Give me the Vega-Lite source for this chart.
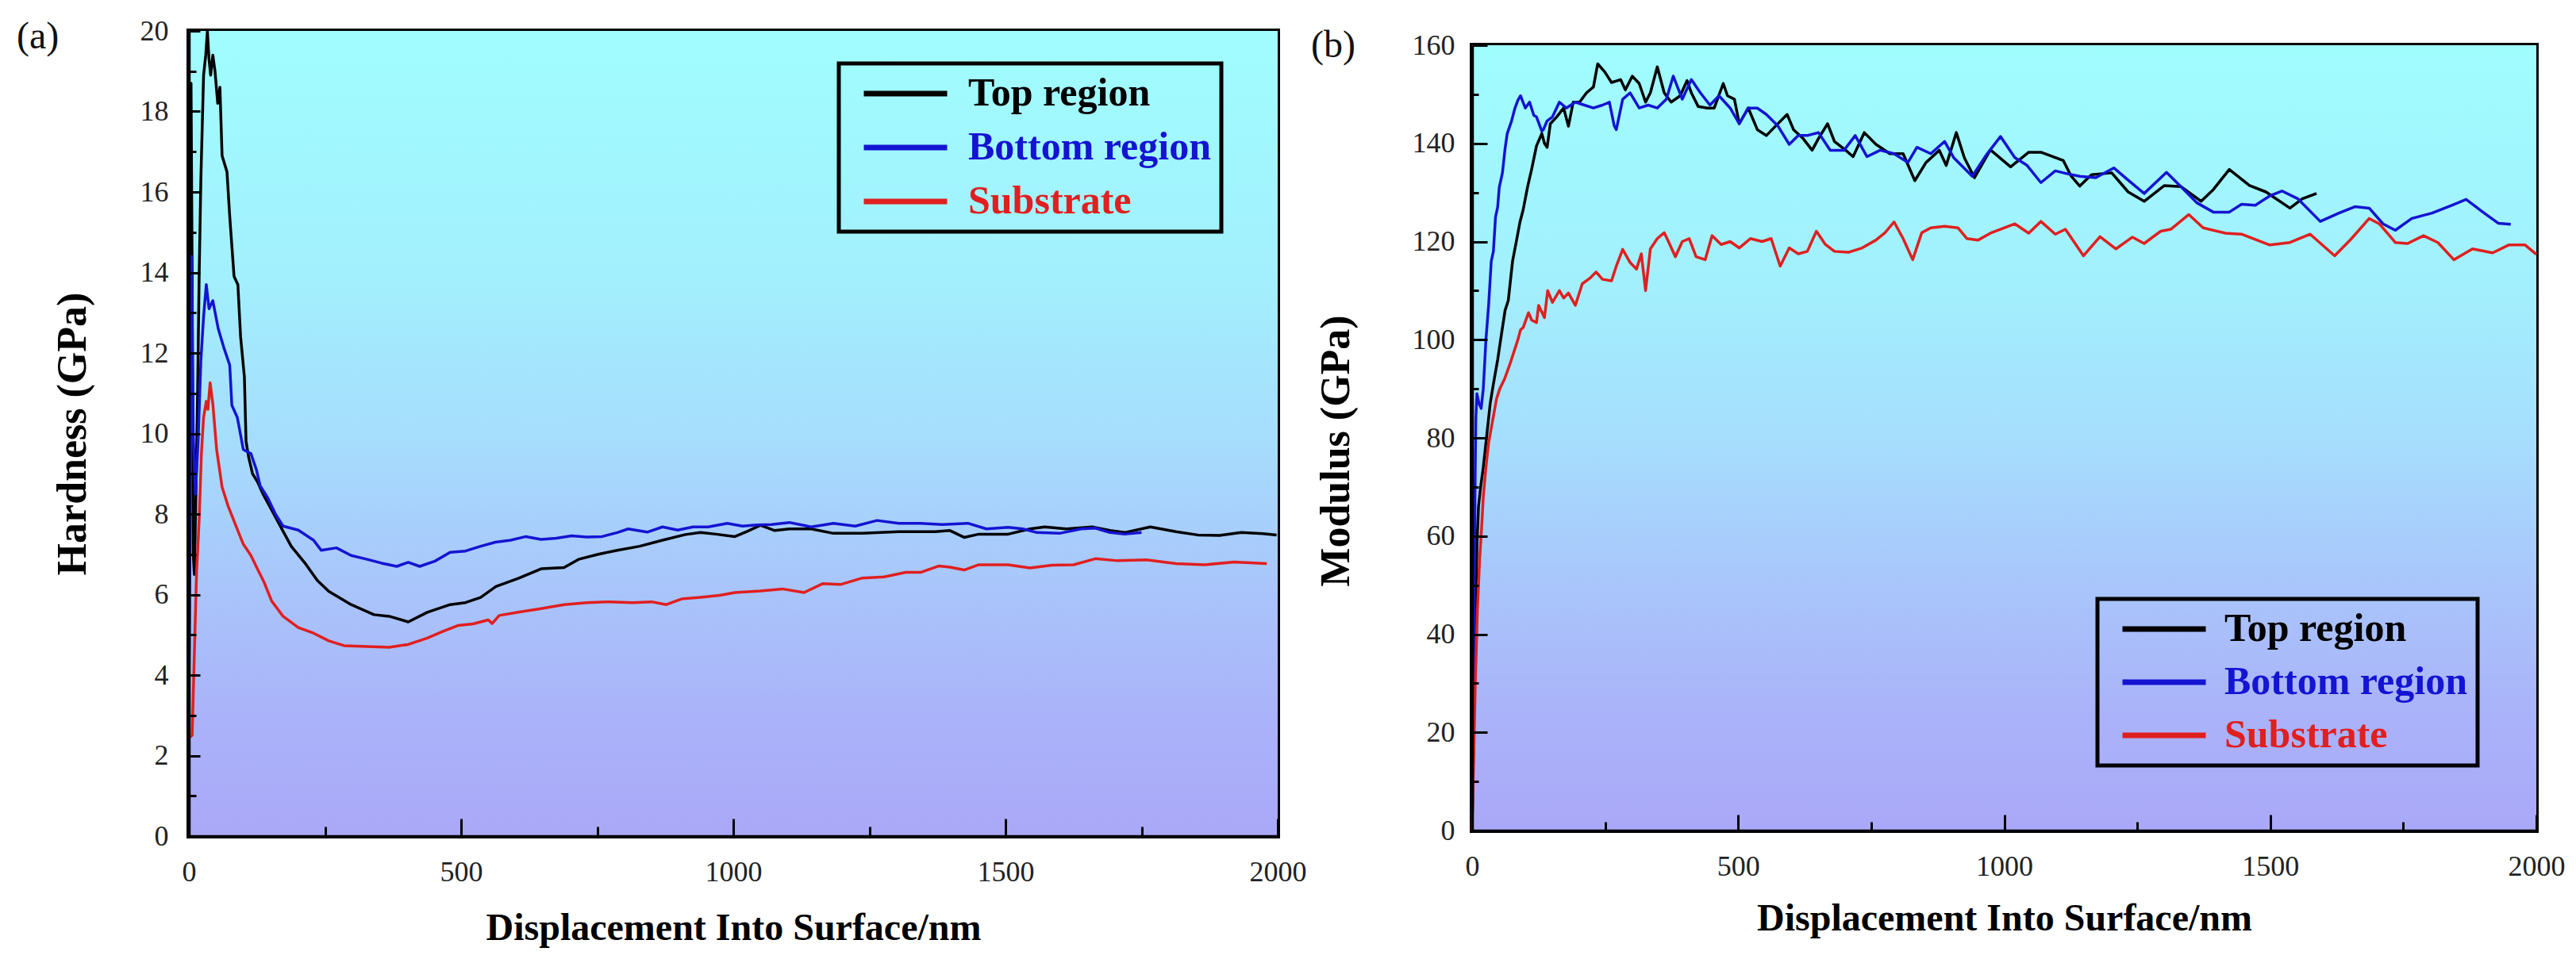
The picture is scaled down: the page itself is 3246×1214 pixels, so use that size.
{
"$schema":"https://vega.github.io/schema/vega-lite/v6.json",
"background":"white",
"padding":{"left":18,"top":18,"right":0,"bottom":0},
"spacing":0,
"config":{"font":"Liberation Serif","view":{"stroke":"black","strokeWidth":6},
"legend":{"strokeWidth":5}},
"resolve":{"scale":{"color":"independent"},"legend":{"color":"independent"}},
"datasets":{
"hard":[
{"d":0,"v":2.8,"s":"Top region"},{"d":2,"v":10,"s":"Top region"},{"d":4,"v":18.7,"s":"Top region"},{"d":6,"v":14,"s":"Top region"},{"d":8,"v":7,"s":"Top region"},{"d":10,"v":6.5,"s":"Top region"},{"d":13,"v":8.5,"s":"Top region"},{"d":16,"v":11,"s":"Top region"},{"d":19,"v":14,"s":"Top region"},{"d":22,"v":16.3,"s":"Top region"},{"d":27,"v":18.9,"s":"Top region"},{"d":31,"v":19.4,"s":"Top region"},{"d":34,"v":20,"s":"Top region"},{"d":37,"v":19.3,"s":"Top region"},{"d":40,"v":18.9,"s":"Top region"},{"d":44,"v":19.4,"s":"Top region"},{"d":48,"v":19,"s":"Top region"},{"d":53,"v":18.2,"s":"Top region"},{"d":57,"v":18.6,"s":"Top region"},{"d":61,"v":16.9,"s":"Top region"},{"d":70,"v":16.5,"s":"Top region"},{"d":75,"v":15.4,"s":"Top region"},{"d":83,"v":13.9,"s":"Top region"},{"d":90,"v":13.7,"s":"Top region"},{"d":95,"v":12.4,"s":"Top region"},{"d":102,"v":11.4,"s":"Top region"},{"d":105,"v":9.8,"s":"Top region"},{"d":110,"v":9.4,"s":"Top region"},{"d":117,"v":9.0,"s":"Top region"},{"d":126,"v":8.8,"s":"Top region"},{"d":136,"v":8.5,"s":"Top region"},{"d":156,"v":8.0,"s":"Top region"},{"d":172,"v":7.6,"s":"Top region"},{"d":188,"v":7.2,"s":"Top region"},{"d":215,"v":6.75,"s":"Top region"},{"d":236,"v":6.35,"s":"Top region"},{"d":257,"v":6.08,"s":"Top region"},{"d":298,"v":5.75,"s":"Top region"},{"d":340,"v":5.5,"s":"Top region"},{"d":368,"v":5.46,"s":"Top region"},{"d":403,"v":5.32,"s":"Top region"},{"d":438,"v":5.56,"s":"Top region"},{"d":480,"v":5.75,"s":"Top region"},{"d":508,"v":5.8,"s":"Top region"},{"d":536,"v":5.93,"s":"Top region"},{"d":564,"v":6.2,"s":"Top region"},{"d":605,"v":6.4,"s":"Top region"},{"d":647,"v":6.64,"s":"Top region"},{"d":689,"v":6.67,"s":"Top region"},{"d":717,"v":6.88,"s":"Top region"},{"d":752,"v":7.0,"s":"Top region"},{"d":787,"v":7.1,"s":"Top region"},{"d":828,"v":7.2,"s":"Top region"},{"d":870,"v":7.35,"s":"Top region"},{"d":912,"v":7.49,"s":"Top region"},{"d":940,"v":7.54,"s":"Top region"},{"d":968,"v":7.5,"s":"Top region"},{"d":1003,"v":7.44,"s":"Top region"},{"d":1024,"v":7.56,"s":"Top region"},{"d":1050,"v":7.72,"s":"Top region"},{"d":1076,"v":7.59,"s":"Top region"},{"d":1103,"v":7.63,"s":"Top region"},{"d":1143,"v":7.63,"s":"Top region"},{"d":1184,"v":7.52,"s":"Top region"},{"d":1237,"v":7.52,"s":"Top region"},{"d":1304,"v":7.56,"s":"Top region"},{"d":1371,"v":7.56,"s":"Top region"},{"d":1398,"v":7.59,"s":"Top region"},{"d":1424,"v":7.42,"s":"Top region"},{"d":1451,"v":7.5,"s":"Top region"},{"d":1505,"v":7.5,"s":"Top region"},{"d":1545,"v":7.63,"s":"Top region"},{"d":1572,"v":7.68,"s":"Top region"},{"d":1612,"v":7.63,"s":"Top region"},{"d":1659,"v":7.68,"s":"Top region"},{"d":1692,"v":7.59,"s":"Top region"},{"d":1719,"v":7.54,"s":"Top region"},{"d":1766,"v":7.68,"s":"Top region"},{"d":1813,"v":7.56,"s":"Top region"},{"d":1853,"v":7.48,"s":"Top region"},{"d":1893,"v":7.47,"s":"Top region"},{"d":1933,"v":7.54,"s":"Top region"},{"d":1973,"v":7.51,"s":"Top region"},{"d":1998,"v":7.48,"s":"Top region"},
{"d":0,"v":3.5,"s":"Bottom region"},{"d":3,"v":9,"s":"Bottom region"},{"d":5,"v":14.4,"s":"Bottom region"},{"d":8,"v":10,"s":"Bottom region"},{"d":12,"v":8.5,"s":"Bottom region"},{"d":17,"v":9.8,"s":"Bottom region"},{"d":22,"v":11.8,"s":"Bottom region"},{"d":27,"v":12.9,"s":"Bottom region"},{"d":32,"v":13.7,"s":"Bottom region"},{"d":37,"v":13.1,"s":"Bottom region"},{"d":44,"v":13.3,"s":"Bottom region"},{"d":54,"v":12.6,"s":"Bottom region"},{"d":65,"v":12.1,"s":"Bottom region"},{"d":75,"v":11.7,"s":"Bottom region"},{"d":79,"v":10.7,"s":"Bottom region"},{"d":89,"v":10.4,"s":"Bottom region"},{"d":100,"v":9.6,"s":"Bottom region"},{"d":114,"v":9.5,"s":"Bottom region"},{"d":124,"v":9.1,"s":"Bottom region"},{"d":131,"v":8.7,"s":"Bottom region"},{"d":145,"v":8.4,"s":"Bottom region"},{"d":159,"v":8.0,"s":"Bottom region"},{"d":173,"v":7.7,"s":"Bottom region"},{"d":201,"v":7.6,"s":"Bottom region"},{"d":229,"v":7.35,"s":"Bottom region"},{"d":243,"v":7.1,"s":"Bottom region"},{"d":271,"v":7.16,"s":"Bottom region"},{"d":298,"v":6.97,"s":"Bottom region"},{"d":326,"v":6.88,"s":"Bottom region"},{"d":354,"v":6.78,"s":"Bottom region"},{"d":382,"v":6.7,"s":"Bottom region"},{"d":403,"v":6.8,"s":"Bottom region"},{"d":424,"v":6.7,"s":"Bottom region"},{"d":452,"v":6.83,"s":"Bottom region"},{"d":480,"v":7.05,"s":"Bottom region"},{"d":508,"v":7.08,"s":"Bottom region"},{"d":536,"v":7.2,"s":"Bottom region"},{"d":563,"v":7.3,"s":"Bottom region"},{"d":591,"v":7.35,"s":"Bottom region"},{"d":619,"v":7.44,"s":"Bottom region"},{"d":647,"v":7.37,"s":"Bottom region"},{"d":675,"v":7.4,"s":"Bottom region"},{"d":703,"v":7.46,"s":"Bottom region"},{"d":731,"v":7.43,"s":"Bottom region"},{"d":759,"v":7.44,"s":"Bottom region"},{"d":787,"v":7.54,"s":"Bottom region"},{"d":807,"v":7.63,"s":"Bottom region"},{"d":842,"v":7.55,"s":"Bottom region"},{"d":870,"v":7.68,"s":"Bottom region"},{"d":898,"v":7.6,"s":"Bottom region"},{"d":926,"v":7.68,"s":"Bottom region"},{"d":954,"v":7.68,"s":"Bottom region"},{"d":989,"v":7.77,"s":"Bottom region"},{"d":1017,"v":7.7,"s":"Bottom region"},{"d":1043,"v":7.73,"s":"Bottom region"},{"d":1070,"v":7.74,"s":"Bottom region"},{"d":1103,"v":7.79,"s":"Bottom region"},{"d":1143,"v":7.68,"s":"Bottom region"},{"d":1184,"v":7.77,"s":"Bottom region"},{"d":1224,"v":7.7,"s":"Bottom region"},{"d":1264,"v":7.84,"s":"Bottom region"},{"d":1304,"v":7.77,"s":"Bottom region"},{"d":1344,"v":7.77,"s":"Bottom region"},{"d":1384,"v":7.74,"s":"Bottom region"},{"d":1431,"v":7.77,"s":"Bottom region"},{"d":1465,"v":7.63,"s":"Bottom region"},{"d":1505,"v":7.67,"s":"Bottom region"},{"d":1532,"v":7.63,"s":"Bottom region"},{"d":1558,"v":7.54,"s":"Bottom region"},{"d":1599,"v":7.52,"s":"Bottom region"},{"d":1639,"v":7.63,"s":"Bottom region"},{"d":1665,"v":7.65,"s":"Bottom region"},{"d":1692,"v":7.54,"s":"Bottom region"},{"d":1719,"v":7.5,"s":"Bottom region"},{"d":1750,"v":7.54,"s":"Bottom region"},
{"d":0,"v":2.45,"s":"Substrate"},{"d":6,"v":2.5,"s":"Substrate"},{"d":10,"v":4.5,"s":"Substrate"},{"d":14,"v":6.5,"s":"Substrate"},{"d":19,"v":7.9,"s":"Substrate"},{"d":23,"v":9.5,"s":"Substrate"},{"d":27,"v":10.4,"s":"Substrate"},{"d":32,"v":10.8,"s":"Substrate"},{"d":35,"v":10.6,"s":"Substrate"},{"d":39,"v":11.26,"s":"Substrate"},{"d":44,"v":10.74,"s":"Substrate"},{"d":51,"v":9.6,"s":"Substrate"},{"d":61,"v":8.67,"s":"Substrate"},{"d":72,"v":8.2,"s":"Substrate"},{"d":86,"v":7.72,"s":"Substrate"},{"d":100,"v":7.25,"s":"Substrate"},{"d":114,"v":6.97,"s":"Substrate"},{"d":124,"v":6.69,"s":"Substrate"},{"d":138,"v":6.31,"s":"Substrate"},{"d":152,"v":5.84,"s":"Substrate"},{"d":173,"v":5.46,"s":"Substrate"},{"d":201,"v":5.18,"s":"Substrate"},{"d":229,"v":5.04,"s":"Substrate"},{"d":257,"v":4.85,"s":"Substrate"},{"d":285,"v":4.73,"s":"Substrate"},{"d":326,"v":4.71,"s":"Substrate"},{"d":368,"v":4.69,"s":"Substrate"},{"d":403,"v":4.76,"s":"Substrate"},{"d":438,"v":4.92,"s":"Substrate"},{"d":466,"v":5.08,"s":"Substrate"},{"d":494,"v":5.23,"s":"Substrate"},{"d":522,"v":5.27,"s":"Substrate"},{"d":550,"v":5.37,"s":"Substrate"},{"d":557,"v":5.28,"s":"Substrate"},{"d":570,"v":5.48,"s":"Substrate"},{"d":605,"v":5.56,"s":"Substrate"},{"d":647,"v":5.65,"s":"Substrate"},{"d":689,"v":5.75,"s":"Substrate"},{"d":731,"v":5.8,"s":"Substrate"},{"d":773,"v":5.82,"s":"Substrate"},{"d":815,"v":5.8,"s":"Substrate"},{"d":850,"v":5.82,"s":"Substrate"},{"d":877,"v":5.75,"s":"Substrate"},{"d":905,"v":5.89,"s":"Substrate"},{"d":940,"v":5.93,"s":"Substrate"},{"d":975,"v":5.98,"s":"Substrate"},{"d":1003,"v":6.05,"s":"Substrate"},{"d":1050,"v":6.09,"s":"Substrate"},{"d":1090,"v":6.14,"s":"Substrate"},{"d":1130,"v":6.05,"s":"Substrate"},{"d":1164,"v":6.27,"s":"Substrate"},{"d":1197,"v":6.25,"s":"Substrate"},{"d":1237,"v":6.41,"s":"Substrate"},{"d":1277,"v":6.44,"s":"Substrate"},{"d":1317,"v":6.55,"s":"Substrate"},{"d":1344,"v":6.55,"s":"Substrate"},{"d":1378,"v":6.71,"s":"Substrate"},{"d":1398,"v":6.68,"s":"Substrate"},{"d":1424,"v":6.61,"s":"Substrate"},{"d":1451,"v":6.74,"s":"Substrate"},{"d":1505,"v":6.74,"s":"Substrate"},{"d":1545,"v":6.66,"s":"Substrate"},{"d":1585,"v":6.73,"s":"Substrate"},{"d":1625,"v":6.74,"s":"Substrate"},{"d":1665,"v":6.89,"s":"Substrate"},{"d":1706,"v":6.84,"s":"Substrate"},{"d":1759,"v":6.86,"s":"Substrate"},{"d":1813,"v":6.77,"s":"Substrate"},{"d":1866,"v":6.74,"s":"Substrate"},{"d":1920,"v":6.81,"s":"Substrate"},{"d":1980,"v":6.77,"s":"Substrate"}
],
"mod":[
{"d":0,"v":1,"s":"Top region"},{"d":3,"v":20,"s":"Top region"},{"d":6,"v":42,"s":"Top region"},{"d":9,"v":58,"s":"Top region"},{"d":12,"v":66,"s":"Top region"},{"d":16,"v":70,"s":"Top region"},{"d":21,"v":74,"s":"Top region"},{"d":27,"v":80,"s":"Top region"},{"d":34,"v":87,"s":"Top region"},{"d":40,"v":91,"s":"Top region"},{"d":48,"v":95.9,"s":"Top region"},{"d":55,"v":101,"s":"Top region"},{"d":62,"v":106,"s":"Top region"},{"d":68,"v":108,"s":"Top region"},{"d":76,"v":116,"s":"Top region"},{"d":82,"v":119.4,"s":"Top region"},{"d":90,"v":124,"s":"Top region"},{"d":96,"v":126.5,"s":"Top region"},{"d":104,"v":131,"s":"Top region"},{"d":112,"v":134.8,"s":"Top region"},{"d":121,"v":139.5,"s":"Top region"},{"d":131,"v":142,"s":"Top region"},{"d":136,"v":140,"s":"Top region"},{"d":141,"v":139.2,"s":"Top region"},{"d":147,"v":144,"s":"Top region"},{"d":159,"v":145.4,"s":"Top region"},{"d":172,"v":147.2,"s":"Top region"},{"d":181,"v":143.5,"s":"Top region"},{"d":190,"v":148.4,"s":"Top region"},{"d":202,"v":148.4,"s":"Top region"},{"d":215,"v":150.3,"s":"Top region"},{"d":228,"v":151.5,"s":"Top region"},{"d":236,"v":156.2,"s":"Top region"},{"d":249,"v":154.6,"s":"Top region"},{"d":262,"v":152.4,"s":"Top region"},{"d":279,"v":153,"s":"Top region"},{"d":288,"v":150.9,"s":"Top region"},{"d":301,"v":153.7,"s":"Top region"},{"d":314,"v":152.2,"s":"Top region"},{"d":326,"v":148.4,"s":"Top region"},{"d":335,"v":150.3,"s":"Top region"},{"d":348,"v":155.6,"s":"Top region"},{"d":361,"v":150.3,"s":"Top region"},{"d":374,"v":148.4,"s":"Top region"},{"d":382,"v":149,"s":"Top region"},{"d":391,"v":149.7,"s":"Top region"},{"d":404,"v":152.8,"s":"Top region"},{"d":412,"v":150.3,"s":"Top region"},{"d":425,"v":147.5,"s":"Top region"},{"d":442,"v":147.2,"s":"Top region"},{"d":455,"v":147.2,"s":"Top region"},{"d":472,"v":152.2,"s":"Top region"},{"d":480,"v":149.7,"s":"Top region"},{"d":493,"v":149,"s":"Top region"},{"d":502,"v":144,"s":"Top region"},{"d":519,"v":147.2,"s":"Top region"},{"d":536,"v":142.8,"s":"Top region"},{"d":553,"v":141.6,"s":"Top region"},{"d":570,"v":143.5,"s":"Top region"},{"d":592,"v":145.9,"s":"Top region"},{"d":604,"v":142.8,"s":"Top region"},{"d":622,"v":141,"s":"Top region"},{"d":639,"v":138.6,"s":"Top region"},{"d":651,"v":141,"s":"Top region"},{"d":668,"v":144,"s":"Top region"},{"d":681,"v":140.4,"s":"Top region"},{"d":702,"v":138.6,"s":"Top region"},{"d":716,"v":137.3,"s":"Top region"},{"d":737,"v":142.2,"s":"Top region"},{"d":759,"v":139.8,"s":"Top region"},{"d":785,"v":137.9,"s":"Top region"},{"d":810,"v":137.9,"s":"Top region"},{"d":832,"v":132.4,"s":"Top region"},{"d":853,"v":136.1,"s":"Top region"},{"d":878,"v":138.6,"s":"Top region"},{"d":891,"v":135.5,"s":"Top region"},{"d":910,"v":142.2,"s":"Top region"},{"d":925,"v":137.1,"s":"Top region"},{"d":944,"v":133,"s":"Top region"},{"d":974,"v":138.7,"s":"Top region"},{"d":1012,"v":135.2,"s":"Top region"},{"d":1046,"v":138.2,"s":"Top region"},{"d":1069,"v":138.2,"s":"Top region"},{"d":1111,"v":136.5,"s":"Top region"},{"d":1126,"v":133.3,"s":"Top region"},{"d":1142,"v":131.3,"s":"Top region"},{"d":1164,"v":133.6,"s":"Top region"},{"d":1202,"v":134,"s":"Top region"},{"d":1233,"v":130.1,"s":"Top region"},{"d":1263,"v":128.2,"s":"Top region"},{"d":1301,"v":131.4,"s":"Top region"},{"d":1332,"v":131.2,"s":"Top region"},{"d":1370,"v":128.2,"s":"Top region"},{"d":1393,"v":130.6,"s":"Top region"},{"d":1423,"v":134.7,"s":"Top region"},{"d":1461,"v":131.4,"s":"Top region"},{"d":1492,"v":130.1,"s":"Top region"},{"d":1537,"v":126.8,"s":"Top region"},{"d":1560,"v":128.7,"s":"Top region"},{"d":1587,"v":129.8,"s":"Top region"},
{"d":0,"v":3,"s":"Bottom region"},{"d":2,"v":25,"s":"Bottom region"},{"d":4,"v":50,"s":"Bottom region"},{"d":6,"v":75,"s":"Bottom region"},{"d":7,"v":84,"s":"Bottom region"},{"d":9,"v":89,"s":"Bottom region"},{"d":13,"v":87,"s":"Bottom region"},{"d":17,"v":86,"s":"Bottom region"},{"d":21,"v":90,"s":"Bottom region"},{"d":26,"v":100,"s":"Bottom region"},{"d":31,"v":107,"s":"Bottom region"},{"d":36,"v":116,"s":"Bottom region"},{"d":40,"v":118,"s":"Bottom region"},{"d":44,"v":125,"s":"Bottom region"},{"d":48,"v":127,"s":"Bottom region"},{"d":51,"v":131,"s":"Bottom region"},{"d":57,"v":134,"s":"Bottom region"},{"d":62,"v":139,"s":"Bottom region"},{"d":66,"v":142,"s":"Bottom region"},{"d":74,"v":144.5,"s":"Bottom region"},{"d":80,"v":147,"s":"Bottom region"},{"d":86,"v":148.8,"s":"Bottom region"},{"d":91,"v":149.7,"s":"Bottom region"},{"d":96,"v":148.3,"s":"Bottom region"},{"d":100,"v":147.2,"s":"Bottom region"},{"d":108,"v":148.4,"s":"Bottom region"},{"d":116,"v":145.7,"s":"Bottom region"},{"d":121,"v":145.4,"s":"Bottom region"},{"d":131,"v":142.5,"s":"Bottom region"},{"d":134,"v":142.8,"s":"Bottom region"},{"d":141,"v":144.6,"s":"Bottom region"},{"d":151,"v":145.4,"s":"Bottom region"},{"d":164,"v":148.4,"s":"Bottom region"},{"d":177,"v":147.2,"s":"Bottom region"},{"d":194,"v":148.4,"s":"Bottom region"},{"d":211,"v":147.8,"s":"Bottom region"},{"d":228,"v":147.2,"s":"Bottom region"},{"d":245,"v":147.8,"s":"Bottom region"},{"d":258,"v":148.4,"s":"Bottom region"},{"d":267,"v":143.6,"s":"Bottom region"},{"d":271,"v":142.8,"s":"Bottom region"},{"d":283,"v":149,"s":"Bottom region"},{"d":297,"v":150.3,"s":"Bottom region"},{"d":314,"v":147.2,"s":"Bottom region"},{"d":331,"v":147.8,"s":"Bottom region"},{"d":348,"v":147.2,"s":"Bottom region"},{"d":365,"v":149,"s":"Bottom region"},{"d":378,"v":153.7,"s":"Bottom region"},{"d":395,"v":149,"s":"Bottom region"},{"d":412,"v":153,"s":"Bottom region"},{"d":429,"v":150.3,"s":"Bottom region"},{"d":447,"v":147.8,"s":"Bottom region"},{"d":464,"v":149.7,"s":"Bottom region"},{"d":485,"v":147.2,"s":"Bottom region"},{"d":502,"v":144,"s":"Bottom region"},{"d":519,"v":147.2,"s":"Bottom region"},{"d":536,"v":147.2,"s":"Bottom region"},{"d":553,"v":145.9,"s":"Bottom region"},{"d":575,"v":143.5,"s":"Bottom region"},{"d":596,"v":139.8,"s":"Bottom region"},{"d":613,"v":141.6,"s":"Bottom region"},{"d":630,"v":141.6,"s":"Bottom region"},{"d":651,"v":142.2,"s":"Bottom region"},{"d":673,"v":138.6,"s":"Bottom region"},{"d":699,"v":138.6,"s":"Bottom region"},{"d":720,"v":141.6,"s":"Bottom region"},{"d":742,"v":137.3,"s":"Bottom region"},{"d":767,"v":138.6,"s":"Bottom region"},{"d":793,"v":137.9,"s":"Bottom region"},{"d":819,"v":136.1,"s":"Bottom region"},{"d":836,"v":139.2,"s":"Bottom region"},{"d":862,"v":137.9,"s":"Bottom region"},{"d":888,"v":140.4,"s":"Bottom region"},{"d":905,"v":137.1,"s":"Bottom region"},{"d":940,"v":133.3,"s":"Bottom region"},{"d":966,"v":137.6,"s":"Bottom region"},{"d":993,"v":141.4,"s":"Bottom region"},{"d":1020,"v":137.1,"s":"Bottom region"},{"d":1043,"v":135.5,"s":"Bottom region"},{"d":1069,"v":132,"s":"Bottom region"},{"d":1096,"v":134.4,"s":"Bottom region"},{"d":1119,"v":133.8,"s":"Bottom region"},{"d":1142,"v":133.3,"s":"Bottom region"},{"d":1172,"v":133,"s":"Bottom region"},{"d":1206,"v":135,"s":"Bottom region"},{"d":1233,"v":132.5,"s":"Bottom region"},{"d":1263,"v":129.8,"s":"Bottom region"},{"d":1305,"v":134.1,"s":"Bottom region"},{"d":1332,"v":131.2,"s":"Bottom region"},{"d":1362,"v":127.9,"s":"Bottom region"},{"d":1393,"v":126,"s":"Bottom region"},{"d":1423,"v":126,"s":"Bottom region"},{"d":1446,"v":127.6,"s":"Bottom region"},{"d":1472,"v":127.4,"s":"Bottom region"},{"d":1499,"v":129.3,"s":"Bottom region"},{"d":1522,"v":130.3,"s":"Bottom region"},{"d":1552,"v":128.7,"s":"Bottom region"},{"d":1594,"v":124.1,"s":"Bottom region"},{"d":1629,"v":125.8,"s":"Bottom region"},{"d":1659,"v":127.1,"s":"Bottom region"},{"d":1686,"v":126.8,"s":"Bottom region"},{"d":1712,"v":123.6,"s":"Bottom region"},{"d":1735,"v":122.3,"s":"Bottom region"},{"d":1766,"v":124.7,"s":"Bottom region"},{"d":1804,"v":125.8,"s":"Bottom region"},{"d":1842,"v":127.4,"s":"Bottom region"},{"d":1868,"v":128.6,"s":"Bottom region"},{"d":1902,"v":125.8,"s":"Bottom region"},{"d":1929,"v":123.7,"s":"Bottom region"},{"d":1952,"v":123.5,"s":"Bottom region"},
{"d":0,"v":0,"s":"Substrate"},{"d":3,"v":15,"s":"Substrate"},{"d":6,"v":30,"s":"Substrate"},{"d":10,"v":45,"s":"Substrate"},{"d":14,"v":55,"s":"Substrate"},{"d":18,"v":62,"s":"Substrate"},{"d":21,"v":68,"s":"Substrate"},{"d":26,"v":74,"s":"Substrate"},{"d":31,"v":79,"s":"Substrate"},{"d":36,"v":82,"s":"Substrate"},{"d":41,"v":85,"s":"Substrate"},{"d":46,"v":88,"s":"Substrate"},{"d":52,"v":90,"s":"Substrate"},{"d":61,"v":92,"s":"Substrate"},{"d":71,"v":95,"s":"Substrate"},{"d":80,"v":98,"s":"Substrate"},{"d":86,"v":100,"s":"Substrate"},{"d":91,"v":102,"s":"Substrate"},{"d":96,"v":102.5,"s":"Substrate"},{"d":106,"v":105.5,"s":"Substrate"},{"d":112,"v":104,"s":"Substrate"},{"d":121,"v":103.5,"s":"Substrate"},{"d":125,"v":107,"s":"Substrate"},{"d":136,"v":104.5,"s":"Substrate"},{"d":142,"v":110,"s":"Substrate"},{"d":151,"v":107.6,"s":"Substrate"},{"d":164,"v":110,"s":"Substrate"},{"d":172,"v":108.5,"s":"Substrate"},{"d":181,"v":109.5,"s":"Substrate"},{"d":194,"v":107,"s":"Substrate"},{"d":207,"v":111.4,"s":"Substrate"},{"d":221,"v":112.5,"s":"Substrate"},{"d":233,"v":113.8,"s":"Substrate"},{"d":245,"v":112.3,"s":"Substrate"},{"d":262,"v":112,"s":"Substrate"},{"d":271,"v":115,"s":"Substrate"},{"d":283,"v":118.4,"s":"Substrate"},{"d":297,"v":115.7,"s":"Substrate"},{"d":309,"v":114.4,"s":"Substrate"},{"d":318,"v":117.5,"s":"Substrate"},{"d":326,"v":110,"s":"Substrate"},{"d":335,"v":118.5,"s":"Substrate"},{"d":348,"v":120.6,"s":"Substrate"},{"d":361,"v":121.8,"s":"Substrate"},{"d":369,"v":120,"s":"Substrate"},{"d":382,"v":116.9,"s":"Substrate"},{"d":395,"v":120,"s":"Substrate"},{"d":408,"v":120.6,"s":"Substrate"},{"d":421,"v":116.9,"s":"Substrate"},{"d":438,"v":116.3,"s":"Substrate"},{"d":451,"v":121.2,"s":"Substrate"},{"d":468,"v":119.4,"s":"Substrate"},{"d":485,"v":120,"s":"Substrate"},{"d":502,"v":118.7,"s":"Substrate"},{"d":523,"v":120.6,"s":"Substrate"},{"d":545,"v":120,"s":"Substrate"},{"d":562,"v":120.6,"s":"Substrate"},{"d":579,"v":115,"s":"Substrate"},{"d":596,"v":118.7,"s":"Substrate"},{"d":613,"v":117.5,"s":"Substrate"},{"d":630,"v":118,"s":"Substrate"},{"d":647,"v":122.1,"s":"Substrate"},{"d":664,"v":119.4,"s":"Substrate"},{"d":681,"v":118,"s":"Substrate"},{"d":707,"v":117.8,"s":"Substrate"},{"d":733,"v":118.7,"s":"Substrate"},{"d":759,"v":120.3,"s":"Substrate"},{"d":776,"v":121.8,"s":"Substrate"},{"d":793,"v":124,"s":"Substrate"},{"d":810,"v":120.6,"s":"Substrate"},{"d":828,"v":116.3,"s":"Substrate"},{"d":845,"v":121.8,"s":"Substrate"},{"d":862,"v":122.8,"s":"Substrate"},{"d":888,"v":123.1,"s":"Substrate"},{"d":913,"v":122.8,"s":"Substrate"},{"d":930,"v":120.6,"s":"Substrate"},{"d":951,"v":120.3,"s":"Substrate"},{"d":974,"v":121.7,"s":"Substrate"},{"d":1020,"v":123.6,"s":"Substrate"},{"d":1046,"v":121.7,"s":"Substrate"},{"d":1069,"v":124.1,"s":"Substrate"},{"d":1096,"v":121.5,"s":"Substrate"},{"d":1115,"v":122.5,"s":"Substrate"},{"d":1149,"v":117.1,"s":"Substrate"},{"d":1180,"v":121,"s":"Substrate"},{"d":1210,"v":118.5,"s":"Substrate"},{"d":1241,"v":120.9,"s":"Substrate"},{"d":1263,"v":119.6,"s":"Substrate"},{"d":1294,"v":122.1,"s":"Substrate"},{"d":1313,"v":122.5,"s":"Substrate"},{"d":1347,"v":125.5,"s":"Substrate"},{"d":1374,"v":122.8,"s":"Substrate"},{"d":1416,"v":121.7,"s":"Substrate"},{"d":1446,"v":121.5,"s":"Substrate"},{"d":1499,"v":119.3,"s":"Substrate"},{"d":1537,"v":119.8,"s":"Substrate"},{"d":1575,"v":121.5,"s":"Substrate"},{"d":1621,"v":117.1,"s":"Substrate"},{"d":1651,"v":120.4,"s":"Substrate"},{"d":1686,"v":124.7,"s":"Substrate"},{"d":1705,"v":123.6,"s":"Substrate"},{"d":1735,"v":119.8,"s":"Substrate"},{"d":1758,"v":119.6,"s":"Substrate"},{"d":1788,"v":121.2,"s":"Substrate"},{"d":1815,"v":119.8,"s":"Substrate"},{"d":1845,"v":116.3,"s":"Substrate"},{"d":1880,"v":118.5,"s":"Substrate"},{"d":1918,"v":117.7,"s":"Substrate"},{"d":1948,"v":119.3,"s":"Substrate"},{"d":1979,"v":119.3,"s":"Substrate"},{"d":2000,"v":117.4,"s":"Substrate"}
]},
"hconcat":[
{
"width":1372,"height":1015,
"title":{"text":"(a)","orient":"top","anchor":"start","frame":"group","offset":-50,"dx":-217,"font":"Liberation Serif","fontSize":48,"fontWeight":"normal","color":"#111111"},
"layer":[
{"data":{"values":[{"x0":0,"x1":2000,"y0":0,"y1":20}]},
"mark":{"type":"rect","color":{"gradient":"linear","x1":0,"y1":0,"x2":0,"y2":1,"stops":[{"offset":0,"color":"#a0fdfe"},{"offset":0.3,"color":"#a2f0fd"},{"offset":0.5,"color":"#a6defd"},{"offset":0.7,"color":"#a9c4fb"},{"offset":0.85,"color":"#aab3f9"},{"offset":1,"color":"#aaa8f8"}]}},
"encoding":{
"x":{"field":"x0","type":"quantitative","scale":{"domain":[0,2000],"nice":false},
"axis":{"zindex":1,"values":[0,250,500,750,1000,1250,1500,1750,2000],"labelExpr":"datum.value % 500 === 0 ? datum.label : ''","format":"d","grid":false,"domainColor":"black","domainWidth":3.5,"tickColor":"black","tickWidth":3,"tickSize":{"condition":{"test":"datum.value % 500 === 0","value":-22},"value":-12},"labelPadding":50,"labelFont":"Liberation Serif","labelFontSize":36,"labelColor":"#222222","labelFlush":false,"title":"Displacement Into Surface/nm","titleFont":"Liberation Serif","titleFontSize":48,"titleFontWeight":"bold","titleColor":"black","titlePadding":29}},
"x2":{"field":"x1"},
"y":{"field":"y0","type":"quantitative","scale":{"domain":[0,20],"nice":false},
"axis":{"zindex":1,"values":[0,1,2,3,4,5,6,7,8,9,10,11,12,13,14,15,16,17,18,19,20],"labelExpr":"datum.value % 2 === 0 ? datum.label : ''","grid":false,"domainColor":"black","domainWidth":3.5,"tickColor":"black","tickWidth":3,"tickSize":{"condition":{"test":"datum.value % 2 === 0","value":-14},"value":-9},"labelPadding":40,"labelFont":"Liberation Serif","labelFontSize":36,"labelColor":"#222222","labelFlush":false,"title":"Hardness (GPa)","titleFont":"Liberation Serif","titleFontSize":52,"titleFontWeight":"bold","titleColor":"black","titlePadding":58}},
"y2":{"field":"y1"}}},
{"data":{"name":"hard"},
"mark":{"type":"line","strokeWidth":3.5,"strokeJoin":"round"},
"encoding":{"x":{"field":"d","type":"quantitative"},"y":{"field":"v","type":"quantitative"},
"color":{"field":"s","type":"nominal","scale":{"domain":["Top region","Bottom region","Substrate"],"range":["#000000","#1414d2","#e01f1f"]},
"legend":{"orient":"none","legendX":819,"legendY":41,"title":null,"symbolType":"stroke","symbolSize":11025,"symbolStrokeWidth":7,"clipHeight":50,"labelFont":"Liberation Serif","labelFontSize":50,"labelFontWeight":"bold","labelLimit":0,"strokeColor":"black","padding":13,"rowPadding":18,"labelOffset":23,"symbolOffset":15,
"encode":{"symbols":{"update":{"strokeWidth":{"value":7}}},"labels":{"update":{"fill":{"signal":"datum.value === 'Top region' ? '#000000' : datum.value === 'Bottom region' ? '#1414d2' : '#e01f1f'"}}}}}}}}
]},
{
"spacing":-9,
"vconcat":[
{"width":10,"height":1,"view":{"stroke":null},"data":{"values":[]},"mark":{"type":"point","opacity":0},"encoding":{}},
{
"width":1341,"height":990,
"title":{"text":"(b)","orient":"top","anchor":"start","frame":"group","offset":-43,"dx":-203,"font":"Liberation Serif","fontSize":48,"fontWeight":"normal","color":"#111111"},
"layer":[
{"data":{"values":[{"x0":0,"x1":2000,"y0":0,"y1":160}]},
"mark":{"type":"rect","color":{"gradient":"linear","x1":0,"y1":0,"x2":0,"y2":1,"stops":[{"offset":0,"color":"#a0fdfe"},{"offset":0.3,"color":"#a2f0fd"},{"offset":0.5,"color":"#a6defd"},{"offset":0.7,"color":"#a9c4fb"},{"offset":0.85,"color":"#aab3f9"},{"offset":1,"color":"#aaa8f8"}]}},
"encoding":{
"x":{"field":"x0","type":"quantitative","scale":{"domain":[0,2000],"nice":false},
"axis":{"zindex":1,"values":[0,250,500,750,1000,1250,1500,1750,2000],"labelExpr":"datum.value % 500 === 0 ? datum.label : ''","format":"d","grid":false,"domainColor":"black","domainWidth":3.5,"tickColor":"black","tickWidth":3,"tickSize":{"condition":{"test":"datum.value % 500 === 0","value":-20},"value":-11},"labelPadding":48,"labelFont":"Liberation Serif","labelFontSize":36,"labelColor":"#222222","labelFlush":false,"title":"Displacement Into Surface/nm","titleFont":"Liberation Serif","titleFontSize":48,"titleFontWeight":"bold","titleColor":"black","titlePadding":24}},
"x2":{"field":"x1"},
"y":{"field":"y0","type":"quantitative","scale":{"domain":[0,160],"nice":false},
"axis":{"zindex":1,"values":[0,10,20,30,40,50,60,70,80,90,100,110,120,130,140,150,160],"labelExpr":"datum.value % 20 === 0 ? datum.label : ''","grid":false,"domainColor":"black","domainWidth":3.5,"tickColor":"black","tickWidth":3,"tickSize":{"condition":{"test":"datum.value % 20 === 0","value":-19},"value":-8},"labelPadding":41,"labelFont":"Liberation Serif","labelFontSize":36,"labelColor":"#222222","labelFlush":false,"title":"Modulus (GPa)","titleFont":"Liberation Serif","titleFontSize":52,"titleFontWeight":"bold","titleColor":"black","titlePadding":69,"titleY":511}},
"y2":{"field":"y1"}}},
{"data":{"name":"mod"},
"mark":{"type":"line","strokeWidth":3.5,"strokeJoin":"round"},
"encoding":{"x":{"field":"d","type":"quantitative"},"y":{"field":"v","type":"quantitative"},
"color":{"field":"s","type":"nominal","scale":{"domain":["Top region","Bottom region","Substrate"],"range":["#000000","#1414d2","#e01f1f"]},
"legend":{"orient":"none","legendX":788,"legendY":716,"title":null,"symbolType":"stroke","symbolSize":11025,"symbolStrokeWidth":7,"clipHeight":50,"labelFont":"Liberation Serif","labelFontSize":50,"labelFontWeight":"bold","labelLimit":0,"strokeColor":"black","padding":13,"rowPadding":17,"labelOffset":20,"symbolOffset":15,
"encode":{"symbols":{"update":{"strokeWidth":{"value":7}}},"labels":{"update":{"fill":{"signal":"datum.value === 'Top region' ? '#000000' : datum.value === 'Bottom region' ? '#1414d2' : '#e01f1f'"}}}}}}}}
]}
]}
]
}
